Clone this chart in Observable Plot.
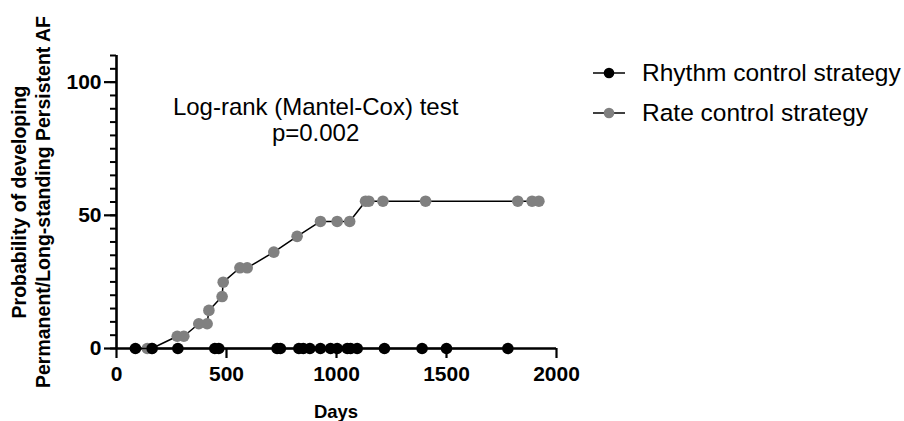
<!DOCTYPE html>
<html>
<head>
<meta charset="utf-8">
<script src="https://cdn.jsdelivr.net/npm/d3@7"></script>
<script src="https://cdn.jsdelivr.net/npm/@observablehq/plot@0.6"></script>
<style>
  html, body { margin: 0; padding: 0; background: #fff; }
  #wrap { position: relative; width: 904px; height: 421px; font-family: "Liberation Sans", Arial, sans-serif; }
  .legend-row { position: absolute; left: 593px; height: 30px; display: flex; align-items: center; font-size: 24.5px; color: #000; white-space: nowrap; }
  .legend-row svg { margin-right: 17px; }
</style>
</head>
<body>
<div id="wrap"></div>
<script>
// ---- data ----
const seriesNames = ["Rhythm control strategy", "Rate control strategy"];
const seriesColors = ["#000000", "#808080"];

const rateDays = [140, 160, 276, 306, 374, 412, 420, 480, 485, 561, 594, 715, 821, 927, 1003, 1060, 1132, 1147, 1211, 1405, 1824, 1889, 1920];
const rateProb = [0, 0, 4.6, 4.6, 9.3, 9.3, 14.3, 19.5, 24.9, 30.3, 30.3, 36.2, 42.1, 47.7, 47.7, 47.7, 55.3, 55.3, 55.3, 55.3, 55.3, 55.3, 55.3];

const rhythmDays = [86, 162, 279, 447, 465, 730, 745, 829, 849, 879, 927, 973, 1003, 1049, 1064, 1094, 1218, 1389, 1500, 1779];
const rhythmProb = [0, 0, 0, 0, 0, 0, 0, 0, 0, 0, 0, 0, 0, 0, 0, 0, 0, 0, 0, 0];

const xTicks = [0, 500, 1000, 1500, 2000];
const yTicks = [0, 50, 100];
const yMinorTicks = d3.range(0, 111, 5);

const annotText = ["Log-rank (Mantel-Cox) test", "p=0.002"];
const annotX = [905, 905];
const annotY = [90.6, 80.8];

const xLabel = "Days";
const yLabelLines = ["Probability of developing", "Permanent/Long-standing Persistent AF"];

// ---- build ----
const rate = rateDays.map((d, i) => ({days: d, p: rateProb[i]}));
const rhythm = rhythmDays.map((d, i) => ({days: d, p: rhythmProb[i]}));
const annot = annotText.map((t, i) => ({t, x: annotX[i], y: annotY[i]}));

const font = "'Liberation Sans', Arial, sans-serif";
const fmt = d3.format("d");

const chart = Plot.plot({
  width: 904,
  height: 421,
  marginLeft: 116,
  marginRight: 348,
  marginTop: 55,
  marginBottom: 73,
  style: {fontFamily: font, background: "#fff", overflow: "visible"},
  x: {domain: [0, 2000], axis: null},
  y: {domain: [0, 110], axis: null},
  marks: [
    // minor y ticks
    Plot.axisY({ticks: yMinorTicks, tickSize: 6, text: null, strokeWidth: 2, anchor: "left"}),
    // major y ticks + labels
    Plot.axisY({ticks: yTicks, tickSize: 12, tickPadding: 3, tickFormat: fmt, fontSize: 21, fontWeight: "bold", strokeWidth: 2.2, anchor: "left", label: null}),
    // x ticks + labels
    Plot.axisX({ticks: xTicks, tickSize: 10, tickPadding: 8, tickFormat: fmt, fontSize: 21, fontWeight: "bold", strokeWidth: 2.2, anchor: "bottom", label: null}),
    // axis lines
    Plot.ruleX([0], {y1: 0, y2: 110, stroke: "#000", strokeWidth: 2.6}),
    Plot.ruleY([0], {x1: 0, x2: 2000, stroke: "#000", strokeWidth: 2.6}),
    // rate control
    Plot.line(rate, {x: "days", y: "p", stroke: "#000", strokeWidth: 1.5}),
    Plot.dot(rate, {x: "days", y: "p", r: 5.8, fill: seriesColors[1], stroke: "none"}),
    // rhythm control
    Plot.line(rhythm, {x: "days", y: "p", stroke: "#000", strokeWidth: 1.5}),
    Plot.dot(rhythm, {x: "days", y: "p", r: 5.8, fill: seriesColors[0], stroke: "none"}),
    // annotation
    Plot.text(annot, {x: "x", y: "y", text: "t", fontSize: 24, fill: "#000", textAnchor: "middle"}),
  ]
});

const wrap = document.getElementById("wrap");
wrap.appendChild(chart);

// axis titles (inside the svg)
const svg = d3.select(chart);
svg.append("text")
  .attr("x", 336).attr("y", 418)
  .attr("text-anchor", "middle")
  .attr("font-size", 18.5).attr("font-weight", "bold")
  .attr("fill", "#000")
  .text(xLabel);
const yt = svg.append("text")
  .attr("transform", "translate(26,202) rotate(-90)")
  .attr("text-anchor", "middle")
  .attr("font-size", 19.5).attr("font-weight", "bold")
  .attr("fill", "#000");
yLabelLines.forEach((l, i) => {
  yt.append("tspan").attr("x", 0).attr("dy", i === 0 ? 0 : 24).text(l);
});

// legend
const legendTops = [58, 98];
seriesNames.forEach((name, i) => {
  const row = document.createElement("div");
  row.className = "legend-row";
  row.style.top = legendTops[i] + "px";
  row.innerHTML = `<svg width="32" height="14"><line x1="0" x2="32" y1="7" y2="7" stroke="#000" stroke-width="1.5"/><circle cx="16" cy="7" r="5.3" fill="${seriesColors[i]}"/></svg><span>${name}</span>`;
  wrap.appendChild(row);
});
</script>
</body>
</html>
